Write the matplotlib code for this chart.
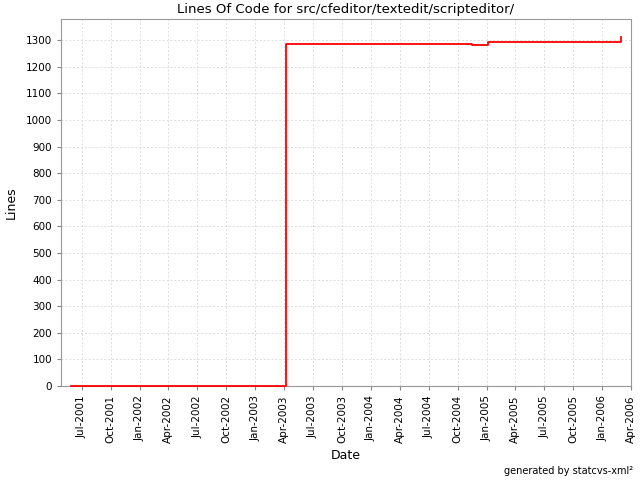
import matplotlib
matplotlib.use("Agg")
import matplotlib.pyplot as plt
import matplotlib.dates as mdates
import numpy as np
from datetime import datetime

dates = ["2001-05-28", "2003-04-06", "2004-11-15", "2005-01-04", "2006-02-28"]
lines = [0, 1285, 1281, 1292, 1312]

x = [datetime.strptime(d, "%Y-%m-%d") for d in dates]

fig = plt.figure(figsize=(6.4, 4.8), dpi=100)
ax = fig.add_axes([61/640, 94/480, 570/640, 367/480])

ax.plot(x, lines, drawstyle="steps-post", color="#ff0000", lw=1.3,
        zorder=5, clip_on=False)

ax.set_xlim(datetime(2001, 4, 27), datetime(2006, 4, 1))
ax.set_ylim(0, 1380)
ax.set_yticks(np.arange(0, 1301, 100))
ax.xaxis.set_major_locator(mdates.MonthLocator(bymonth=[1, 4, 7, 10]))
ax.xaxis.set_major_formatter(mdates.DateFormatter("%b-%Y"))
ax.tick_params(axis="x", labelrotation=90, labelsize=7.5, length=3, color="#888888")
ax.tick_params(axis="y", labelsize=7.5, length=3, color="#888888")

ax.grid(True, color="#dddddd", linestyle=(0, (2, 2)), lw=0.7)
for s in ax.spines.values():
    s.set_color("#999999")
    s.set_zorder(2)

ax.set_title("Lines Of Code for src/cfeditor/textedit/scripteditor/", fontsize=9.5, pad=4)
ax.set_ylabel("Lines", fontsize=9, labelpad=6)
ax.set_xlabel("Date", fontsize=9, labelpad=4)

fig.text(633/640, 1 - 471/480, "generated by statcvs-xml²", ha="right", va="center", fontsize=7)

fig.savefig("out.png", dpi=100)
